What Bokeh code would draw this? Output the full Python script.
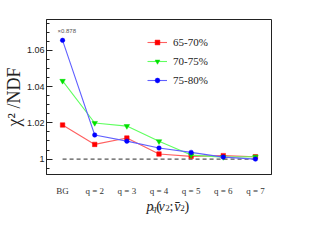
from bokeh.plotting import figure
from bokeh.layouts import column
from bokeh.models import Range1d, FixedTicker, Legend, LegendItem, Label
from bokeh.embed import file_html
from bokeh.resources import INLINE

# ---- data ----
categories = ["BG", "q = 2", "q = 3", "q = 4", "q = 5", "q = 6", "q = 7"]
xpos = [0, 1, 2, 3, 4, 5, 6]
c65_70 = [1.0188, 1.0081, 1.0116, 1.0028, 1.0015, 1.0019, 1.0013]
c70_75 = [1.0431, 1.0199, 1.0182, 1.0098, 1.0022, 1.0011, 1.0013]
c75_80 = [1.0655, 1.0133, 1.0099, 1.0061, 1.0037, 1.0011, 1.0000]
y_major = [1.0, 1.02, 1.04, 1.06]
y_major_labels = ["1", "1.02", "1.04", "1.06"]
y_minor = [0.995, 1.005, 1.01, 1.015, 1.025, 1.03, 1.035, 1.045, 1.05, 1.055,
           1.065, 1.07, 1.075]
series_names = ["65-70%", "70-75%", "75-80%"]
ref_level = 1.0

SERIF = "Times New Roman, Liberation Serif, serif"

p = figure(width=307, height=198, output_backend="svg", toolbar_location=None,
           x_range=Range1d(-0.5, 6.5), y_range=Range1d(0.9915, 1.077),
           min_border_left=45, min_border_right=36, min_border_top=19,
           min_border_bottom=24)
p.background_fill_color = "white"
p.border_fill_color = "white"
p.outline_line_color = "#222222"
p.outline_line_width = 1
p.xgrid.visible = False
p.ygrid.visible = False

# x axis
p.xaxis.ticker = FixedTicker(ticks=xpos)
p.xaxis.major_label_overrides = {x: c for x, c in zip(xpos, categories)}
p.xaxis.major_tick_line_color = None
p.xaxis.minor_tick_line_color = None
p.xaxis.axis_line_color = "#222222"
p.xaxis.major_label_text_font = SERIF
p.xaxis.major_label_text_font_style = "normal"
p.xaxis.major_label_text_font_size = "9px"
p.xaxis.major_label_text_color = "#333333"
p.xaxis.major_label_standoff = 5

# y axis
p.yaxis.ticker = FixedTicker(ticks=y_major, minor_ticks=y_minor)
p.yaxis.major_label_overrides = {v: s for v, s in zip(y_major, y_major_labels)}
p.yaxis.major_tick_in = 6
p.yaxis.major_tick_out = 0
p.yaxis.minor_tick_in = 3
p.yaxis.minor_tick_out = 0
p.yaxis.axis_line_color = "#222222"
p.yaxis.major_tick_line_color = "#222222"
p.yaxis.minor_tick_line_color = "#222222"
p.yaxis.major_label_text_font = "Liberation Sans"
p.yaxis.major_label_text_font_size = "9px"
p.yaxis.major_label_text_color = "#222222"
p.yaxis.major_label_standoff = 2
p.yaxis.axis_label = "χ² /NDF"
p.yaxis.axis_label_text_font = SERIF
p.yaxis.axis_label_text_font_style = "normal"
p.yaxis.axis_label_text_font_size = "18px"
p.yaxis.axis_label_text_color = "#222222"
p.yaxis.axis_label_standoff = 0

# reference line spanning the categories
p.segment(x0=[xpos[0]], x1=[xpos[-1]], y0=[ref_level], y1=[ref_level],
          line_color="#555555", line_dash="4 3", line_width=1.3)

r1l = p.line(xpos, c65_70, line_color="#ff6060", line_width=1.1)
r1m = p.scatter(xpos, c65_70, marker="square", size=4.5, fill_color="#ff0000",
                line_color="#ff0000", line_width=0.5)
r2l = p.line(xpos, c70_75, line_color="#60ff60", line_width=1.1)
r2m = p.scatter(xpos, c70_75, marker="inverted_triangle", size=5.5,
                fill_color="#00e000", line_color="#00e000", line_width=0.5)
r3l = p.line(xpos, c75_80, line_color="#6060ff", line_width=1.1)
r3m = p.scatter(xpos, c75_80, marker="circle", size=4.5, fill_color="#0000ff",
                line_color="#0000ff", line_width=0.5)

legend = Legend(items=[LegendItem(label=series_names[0], renderers=[r1l, r1m]),
                       LegendItem(label=series_names[1], renderers=[r2l, r2m]),
                       LegendItem(label=series_names[2], renderers=[r3l, r3m])],
                location=(101, 85), orientation="vertical",
                glyph_width=20, glyph_height=12, label_height=19,
                label_standoff=6, spacing=0, padding=0, margin=0,
                border_line_color=None, background_fill_alpha=0,
                label_text_font=SERIF, label_text_font_size="11px",
                label_text_color="#222222")
p.add_layout(legend)

# scale annotation
p.add_layout(Label(x=11, y=144, x_units="screen", y_units="screen",
                   text="×0.878", text_font="Liberation Sans",
                   text_font_size="6px", text_color="#555555",
                   text_baseline="middle"))

# x axis title, drawn in a strip below the plot (frame aligned with p's frame)
t = figure(width=307, height=30, output_backend="svg", toolbar_location=None,
           x_range=Range1d(0, 1), y_range=Range1d(0, 1),
           min_border=0, min_border_left=0, min_border_right=0,
           min_border_top=0, min_border_bottom=0,
           x_axis_location=None, y_axis_location=None)
t.outline_line_color = None
t.xgrid.visible = False
t.ygrid.visible = False
t.background_fill_color = "white"
t.border_fill_color = "white"

# (text, screen x, baseline y, size, style)
title_pieces = [
    ("p", 100.0, 22.5, "14px", "italic"),
    ("q", 105.5, 20.5, "9px", "italic"),
    ("(", 109.7, 22.5, "14px", "normal"),
    ("v", 112.0, 22.5, "14px", "italic"),
    ("2", 118.7, 20.5, "9px", "normal"),
    (";", 123.0, 22.5, "14px", "normal"),
    ("v̄", 127.7, 22.5, "14px", "italic"),
    ("2", 133.7, 20.5, "9px", "normal"),
    (")", 138.0, 22.5, "14px", "normal"),
]
for txt, sx, sy, fs, st in title_pieces:
    t.add_layout(Label(x=sx, y=sy, x_units="screen", y_units="screen",
                       text=txt, text_font=SERIF, text_font_size=fs,
                       text_font_style=st, text_color="#222222",
                       text_baseline="alphabetic", text_align="left"))

layout = column(p, t, spacing=0)
open("out.html", "w").write(file_html(layout, INLINE))
